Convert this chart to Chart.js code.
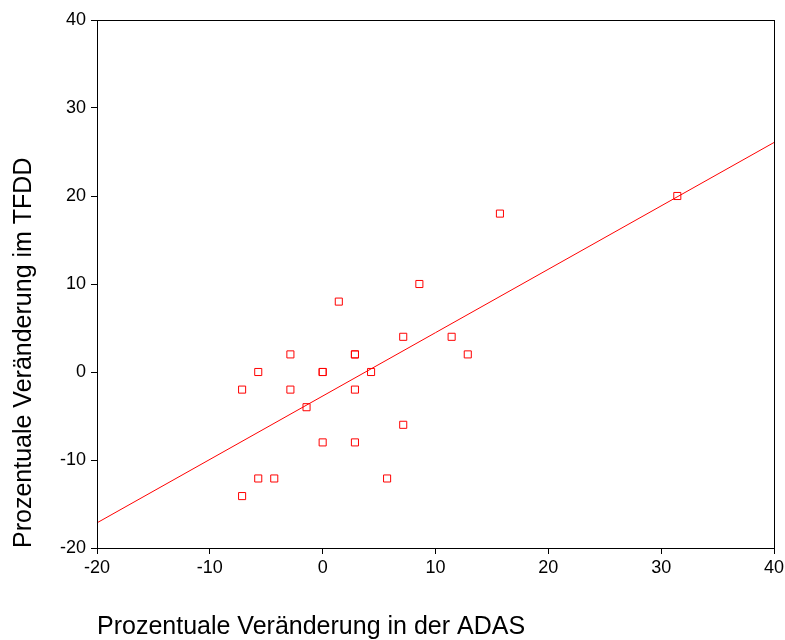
<!DOCTYPE html>
<html>
<head>
<meta charset="utf-8">
<script src="https://cdn.jsdelivr.net/npm/chart.js@4"></script>
<style>
  html, body { margin: 0; padding: 0; background: #fff; }
  #wrap { width: 785px; height: 640px; position: relative; }
</style>
</head>
<body>
<div id="wrap"><canvas id="chart"></canvas></div>
<script>
// Percentage change in ADAS (x) and TFDD (y), one entry per patient
const adasChange = [8.57, 1.43, 7.14, 11.43, -2.86, 2.86, 2.86, 12.86, -5.71, 0, 0, 4.29,
  -7.14, -2.86, 2.86, -1.43, 7.14, 0, 2.86, -5.71, -4.29, 5.71, -7.14, 15.71, 31.43];
const tfddChange = [10, 8, 4, 4, 2, 2, 2, 2, 0, 0, 0, 0,
  -2, -2, -2, -4, -6, -8, -8, -12.1, -12.1, -12.1, -14.1, 18, 20];

// Linear fit line, evaluated at both ends of the x range
const fitX = [-20, 40];
const fitY = [-17.14, 26.08];

const xTicks = [-20, -10, 0, 10, 20, 30, 40];
const yTicks = [-20, -10, 0, 10, 20, 30, 40];

const xTitle = 'Prozentuale Veränderung in der ADAS';
const yTitle = 'Prozentuale Veränderung im TFDD';

const RED = '#ff0000';
const FONT = 'Liberation Sans, Arial, sans-serif';

// Closed box around the plotting area
const frame = {
  id: 'frame',
  afterDatasetsDraw(chart) {
    const { ctx, chartArea: a } = chart;
    ctx.save();
    ctx.strokeStyle = '#000';
    ctx.lineWidth = 1;
    ctx.strokeRect(Math.round(a.left) + 0.5, Math.round(a.top) + 0.5,
      Math.round(a.right - a.left), Math.round(a.bottom - a.top));
    ctx.restore();
  }
};

new Chart(document.getElementById('chart'), {
  type: 'scatter',
  data: {
    datasets: [
      {
        label: 'Fit',
        type: 'line',
        data: fitX.map((x, i) => ({ x, y: fitY[i] })),
        borderColor: RED,
        borderWidth: 1,
        pointRadius: 0,
        fill: false,
        order: 2
      },
      {
        label: 'Patienten',
        data: adasChange.map((x, i) => ({ x, y: tfddChange[i] })),
        pointStyle: 'rect',
        pointRadius: 5,
        pointBorderWidth: 1,
        borderColor: RED,
        backgroundColor: 'rgba(255,255,255,0)',
        order: 1
      }
    ]
  },
  options: {
    responsive: true,
    maintainAspectRatio: false,
    animation: false,
    layout: { padding: { left: 0, right: 11, top: 20, bottom: 0 } },
    plugins: { legend: { display: false }, tooltip: { enabled: false } },
    scales: {
      x: {
        type: 'linear',
        min: -20, max: 40,
        afterBuildTicks: s => { s.ticks = xTicks.map(v => ({ value: v })); },
        afterFit: s => { s.height = 92; s.paddingRight = 11; },
        ticks: { color: '#000', font: { family: FONT, size: 18 }, padding: 3, maxRotation: 0 },
        grid: { drawOnChartArea: false, drawTicks: true, tickLength: 6, color: '#000' },
        border: { color: '#000' },
        title: {
          display: true, text: xTitle, align: 'start', color: '#000',
          font: { family: FONT, size: 25, lineHeight: 1 }, padding: { top: 20, bottom: 0 }
        }
      },
      y: {
        type: 'linear',
        min: -20, max: 40,
        afterBuildTicks: s => { s.ticks = yTicks.map(v => ({ value: v })); },
        afterFit: s => { s.width = 97; },
        ticks: { color: '#000', font: { family: FONT, size: 18 }, padding: 5 },
        grid: { drawOnChartArea: false, drawTicks: true, tickLength: 6, color: '#000' },
        border: { color: '#000' },
        title: {
          display: true, text: yTitle, align: 'start', color: '#000',
          font: { family: FONT, size: 25, lineHeight: 1.2 }, padding: { top: 9, bottom: 0 }
        }
      }
    }
  },
  plugins: [frame]
});
</script>
</body>
</html>
